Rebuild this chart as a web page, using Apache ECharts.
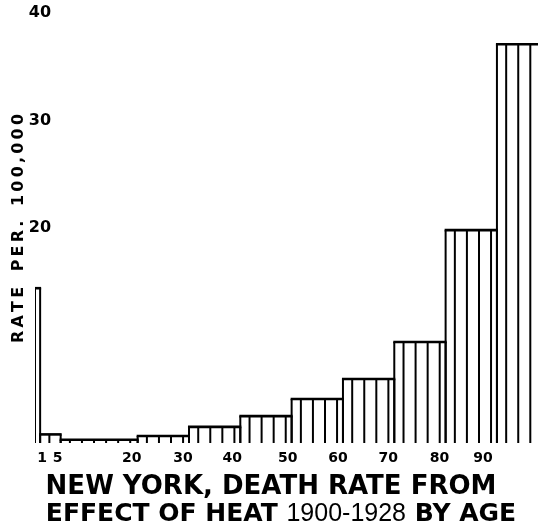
<!DOCTYPE html>
<html>
<head>
<meta charset="utf-8">
<script src="https://cdn.jsdelivr.net/npm/echarts@6/dist/echarts.min.js"></script>
<style>
html,body{margin:0;padding:0;background:#fff;}
#chart{width:538px;height:530px;}
</style>
</head>
<body>
<div id="chart"></div>
<script>
// ---- data ----
const binStart = [0, 1, 5, 20, 30, 40, 50, 60, 70, 80, 90];
const binEnd   = [1, 5, 20, 30, 40, 50, 60, 70, 80, 90, 100];
const rates    = [14.4, 0.8, 0.3, 0.65, 1.5, 2.5, 4.1, 5.95, 9.4, 19.8, 37.1];
const xTickValues = [1, 5, 20, 30, 40, 50, 60, 70, 80, 90];
const yTickValues = [20, 30, 40];
const yAxisTitle = ['RATE', 'PER.', '100,000'];
const titleLine1 = 'NEW YORK, DEATH RATE FROM';
const titleLine2a = 'EFFECT OF HEAT ';
const titleLine2b = '1900-1928';
const titleLine2c = ' BY AGE';

// ---- styling ----
const HATCH_OFFSET = 1.8;   // years from bin start
const HATCH_STEP = 2.35;    // years between hatch lines
const xLabelNudge = [2, -3, -6, -6, -8, -4, -5, -6, -6, -14]; // px
const BOLD = '"DejaVu Sans", sans-serif';

const rich = {};
xTickValues.forEach((v, i) => {
  const n = xLabelNudge[i];
  rich['n' + i] = {
    fontFamily: BOLD, fontWeight: 'bold', fontSize: 14, color: '#000',
    padding: n < 0 ? [0, -2 * n, 0, 0] : [0, 0, 0, 2 * n]
  };
});

const data = binStart.map((s, i) => [s, binEnd[i], rates[i]]);

function renderItem(params, api) {
  const x0 = api.value(0), x1 = api.value(1), v = api.value(2);
  const pb0 = api.coord([x0, 0]);
  const pt0 = api.coord([x0, v]);
  const pt1 = api.coord([x1, v]);
  const base = pb0[1], top = pt0[1];
  const ls = { stroke: '#000', lineWidth: 2 };
  const children = [
    { type: 'line', shape: { x1: pb0[0], y1: base, x2: pb0[0], y2: top }, style: ls },
    { type: 'line', shape: { x1: pt1[0], y1: base, x2: pt1[0], y2: top }, style: ls },
    { type: 'line', shape: { x1: pt0[0] - 1, y1: top, x2: pt1[0] + 1, y2: top }, style: { stroke: '#000', lineWidth: 2.6 } }
  ];
  for (let a = x0 + HATCH_OFFSET; a < x1 - 0.5; a += HATCH_STEP) {
    const px = api.coord([a, 0])[0];
    children.push({ type: 'line', shape: { x1: px, y1: base, x2: px, y2: top }, style: ls });
  }
  return { type: 'group', children };
}

const chart = echarts.init(document.getElementById('chart'), null, { renderer: 'canvas' });
chart.setOption({
  backgroundColor: '#fff',
  animation: false,
  grid: { left: 35, right: 0, top: 13, bottom: 87, containLabel: false },
  xAxis: {
    type: 'value', min: 0, max: 98,
    axisLine: { show: false }, axisTick: { show: false }, splitLine: { show: false },
    axisLabel: {
      customValues: xTickValues,
      margin: 8,
      formatter: (v) => { const i = xTickValues.indexOf(v); return '{n' + i + '|' + v + '}'; },
      rich: rich
    }
  },
  yAxis: {
    type: 'value', min: 0, max: 40, interval: 10,
    axisLine: { show: false }, axisTick: { show: false }, splitLine: { show: false },
    axisLabel: {
      customValues: yTickValues,
      formatter: (v) => yTickValues.includes(v) ? String(v) : '',
      fontFamily: BOLD, fontWeight: 'bold', fontSize: 16, color: '#000',
      align: 'center', verticalAlign: 'middle', margin: -5, padding: [9, 0, 0, 0]
    }
  },
  series: [{
    type: 'custom',
    renderItem: renderItem,
    clip: true,
    encode: { x: [0, 1], y: 2 },
    data: data
  }],
  graphic: [
    { type: 'text', x: 19, y: 315, rotation: Math.PI / 2,
      style: { text: yAxisTitle[0].split('').join('\u2009'), font: 'bold 16px ' + BOLD, fill: '#000', textAlign: 'center', textVerticalAlign: 'middle' } },
    { type: 'text', x: 19, y: 246, rotation: Math.PI / 2,
      style: { text: yAxisTitle[1].split('').join('\u2009'), font: 'bold 16px ' + BOLD, fill: '#000', textAlign: 'center', textVerticalAlign: 'middle' } },
    { type: 'text', x: 19, y: 160, rotation: Math.PI / 2,
      style: { text: yAxisTitle[2].split('').join('\u2009'), font: 'bold 16px ' + BOLD, fill: '#000', textAlign: 'center', textVerticalAlign: 'middle' } },
    { type: 'text', x: 271, y: 487,
      style: { text: titleLine1, font: 'bold 26px ' + BOLD, fill: '#000', textAlign: 'center', textVerticalAlign: 'middle' } },
    { type: 'text', x: 281, y: 514,
      style: {
        text: '{b|' + titleLine2a + '}{r|' + titleLine2b + '}{b|' + titleLine2c + '}',
        textAlign: 'center', textVerticalAlign: 'middle',
        rich: {
          b: { font: 'bold 25px ' + BOLD, fill: '#000' },
          r: { font: '25px "Liberation Sans", sans-serif', fill: '#000' }
        }
      } }
  ]
});
</script>
</body>
</html>
